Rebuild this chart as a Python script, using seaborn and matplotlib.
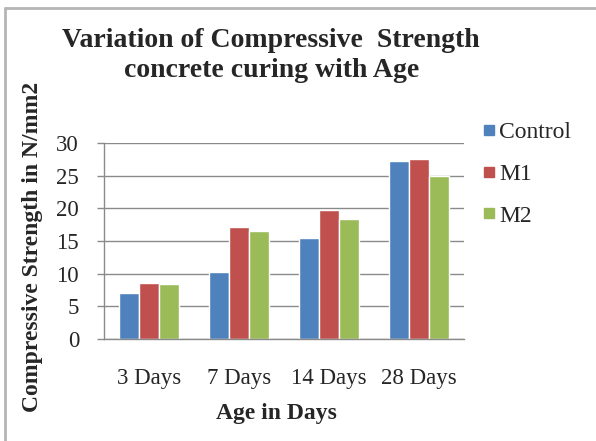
import numpy as np
import pandas as pd
import matplotlib
matplotlib.use("Agg")
import matplotlib.pyplot as plt
import seaborn as sns
from matplotlib.lines import Line2D

# data
ages = ['3 Days', '7 Days', '14 Days', '28 Days']
control = [7.1, 10.2, 15.4, 27.3]
m1 = [8.6, 17.2, 19.8, 27.6]
m2 = [8.4, 16.6, 18.4, 25.0]
series_names = ['Control', 'M1', 'M2']
colors = ['#4F81BD', '#C0504D', '#9BBB59']

df = pd.DataFrame({
    'age': ages * 3,
    'strength': control + m1 + m2,
    'mix': [s for s in series_names for _ in ages],
})

sns.set_style('white')
plt.rcParams['font.family'] = ['Liberation Serif', 'DejaVu Serif']

fig = plt.figure(figsize=(5.96, 4.41), dpi=100)
ax = fig.add_axes([0.1745, 0.2313, 0.604, 0.4444])

sns.barplot(data=df, x='age', y='strength', hue='mix', order=ages,
            hue_order=series_names, palette=colors, width=0.67,
            saturation=1, ax=ax, legend=False)

ax.set_ylim(0, 30)
ax.set_yticks(range(0, 31, 5))
ax.set_xlim(-0.5, 3.5)
ax.yaxis.grid(True, color='#8a8a8a', linewidth=1)
ax.set_axisbelow(True)
for s in ['top', 'right']:
    ax.spines[s].set_visible(False)
for s in ['left', 'bottom']:
    ax.spines[s].set_color('#8a8a8a')
    ax.spines[s].set_linewidth(1)

ax.set_xticks(np.arange(-0.5, 4, 1), minor=True)
ax.tick_params(axis='x', which='major', length=0, pad=21, labelsize=16.5)
ax.tick_params(axis='x', which='minor', length=5, color='#8a8a8a', width=1)
ax.tick_params(axis='y', which='major', left=True, length=5, color='#8a8a8a',
               width=1, labelsize=16.5, pad=13)

ax.set_xlabel('Age in Days', fontsize=17, fontweight='bold')
ax.xaxis.set_label_coords(0.48, -0.325)
ax.set_ylabel('Compressive Strength in N/mm2', fontsize=17,
              fontweight='bold')
ax.yaxis.set_label_coords(-0.17, 0.47)

fig.text(0.455, 0.874, 'Variation of Compressive  Strength\nconcrete curing with Age',
         ha='center', va='center', fontsize=20, fontweight='bold', linespacing=1.3)

handles = [Line2D([], [], marker='s', linestyle='', markersize=7.5,
                  markerfacecolor=c, markeredgecolor=c) for c in colors]
fig.legend(handles, series_names, loc='upper left', bbox_to_anchor=(0.79, 0.745),
           frameon=False, fontsize=17, handletextpad=0.1, labelspacing=0.85,
           handlelength=0.7, borderaxespad=0)

# outer frame lines (left and top only)
fig.add_artist(Line2D([0.009, 0.009], [0.0, 0.982], color='#b5b5b5', linewidth=2,
                      transform=fig.transFigure))
fig.add_artist(Line2D([0.009, 1.0], [0.982, 0.982], color='#b5b5b5', linewidth=2,
                      transform=fig.transFigure))

fig.savefig('out.png', dpi=100)
